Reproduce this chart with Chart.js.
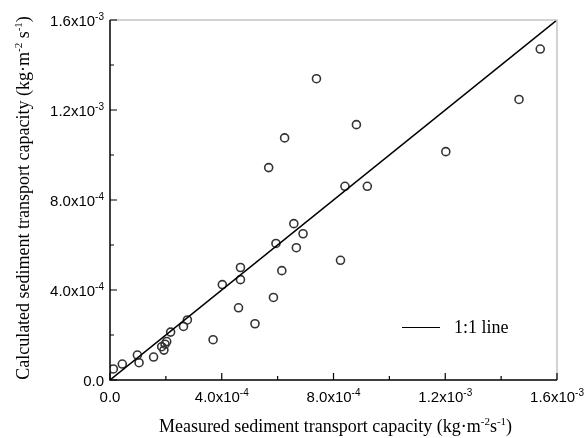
<!DOCTYPE html>
<html>
<head>
<meta charset="utf-8">
<script src="https://cdn.jsdelivr.net/npm/chart.js@4"></script>
<style>
  body { margin: 0; background: #fff; }
  canvas { display: block; }
</style>
</head>
<body>
<canvas id="chart" width="585" height="438"></canvas>
<script>
// values in units of 1e-4 kg m-2 s-1
var measured = [0.12, 0.44, 0.98, 1.04, 1.56, 1.85, 1.93, 1.97, 2.03, 2.17, 2.63, 2.77,
    3.69, 4.02, 4.60, 4.67, 4.67, 5.19, 5.68, 5.85, 5.94, 6.15, 6.25, 6.58, 6.67, 6.91,
    7.39, 8.25, 8.41, 8.82, 9.21, 12.02, 14.64, 15.40];
var calculated = [0.49, 0.71, 1.11, 0.77, 1.02, 1.48, 1.33, 1.59, 1.71, 2.13, 2.38, 2.67,
    1.79, 4.24, 3.21, 4.46, 5.00, 2.50, 9.44, 3.67, 6.07, 4.86, 10.76, 6.95, 5.88, 6.50,
    13.39, 5.32, 8.61, 11.35, 8.61, 10.15, 12.47, 14.71];

var majorTicks = [0, 4, 8, 12, 16];
var minorTicks = [2, 6, 10, 14];
var tickText = ['0.0', '4.0x10', '8.0x10', '1.2x10', '1.6x10'];
var tickExp = ['', '-4', '-4', '-3', '-3'];

var points = measured.map((m, i) => ({ x: m, y: calculated[i] }));

// draws a string with superscript pieces: parts = [[text, isSup], ...]
function drawParts(ctx, parts, x, y, baseFont, supFont, align, rise) {
    var widths = parts.map(p => {
        ctx.font = p[1] ? supFont : baseFont;
        return ctx.measureText(p[0]).width;
    });
    var total = widths.reduce((a, b) => a + b, 0);
    var cx = x;
    if (align === 'right') cx = x - total;
    if (align === 'center') cx = x - total / 2;
    ctx.textAlign = 'left';
    ctx.textBaseline = 'alphabetic';
    parts.forEach((p, i) => {
        ctx.font = p[1] ? supFont : baseFont;
        ctx.fillText(p[0], cx, p[1] ? y - rise : y);
        cx += widths[i];
    });
}

var axesPlugin = {
    id: 'axesPlugin',
    afterDraw(chart) {
        var ctx = chart.ctx;
        var xs = chart.scales.x, ys = chart.scales.y;
        var area = chart.chartArea;
        ctx.save();

        // frame: top and right in grey
        ctx.strokeStyle = '#c4c4c4';
        ctx.lineWidth = 1.5;
        ctx.beginPath();
        ctx.moveTo(area.left, area.top);
        ctx.lineTo(area.right, area.top);
        ctx.lineTo(area.right, area.bottom);
        ctx.stroke();

        // axes
        ctx.strokeStyle = '#000';
        ctx.beginPath();
        ctx.moveTo(area.left, area.top);
        ctx.lineTo(area.left, area.bottom);
        ctx.lineTo(area.right, area.bottom);
        ctx.stroke();

        // inward ticks
        ctx.lineWidth = 1.2;
        ctx.beginPath();
        majorTicks.forEach(v => {
            var px = xs.getPixelForValue(v), py = ys.getPixelForValue(v);
            ctx.moveTo(px, area.bottom); ctx.lineTo(px, area.bottom - 7);
            ctx.moveTo(area.left, py); ctx.lineTo(area.left + 7, py);
        });
        minorTicks.forEach(v => {
            var px = xs.getPixelForValue(v), py = ys.getPixelForValue(v);
            ctx.moveTo(px, area.bottom); ctx.lineTo(px, area.bottom - 4);
            ctx.moveTo(area.left, py); ctx.lineTo(area.left + 4, py);
        });
        ctx.stroke();

        // tick labels
        ctx.fillStyle = '#000';
        var base = '15px "Liberation Sans", Arial, sans-serif';
        var sup = '10px "Liberation Sans", Arial, sans-serif';
        majorTicks.forEach((v, i) => {
            var parts = [[tickText[i], false], [tickExp[i], true]];
            drawParts(ctx, parts, xs.getPixelForValue(v), area.bottom + 22, base, sup, 'center', 6);
            drawParts(ctx, parts, area.left - 6, ys.getPixelForValue(v) + 6, base, sup, 'right', 6);
        });

        // axis titles
        var tFont = '18px "Liberation Serif", "Times New Roman", serif';
        var tSup = '11px "Liberation Serif", "Times New Roman", serif';
        drawParts(ctx, [['Measured sediment transport capacity (kg\u00b7m', false], ['-2', true],
            ['s', false], ['-1', true], [')', false]],
            (area.left + area.right) / 2 + 2, 432, tFont, tSup, 'center', 7);

        ctx.save();
        ctx.translate(29, (area.top + area.bottom) / 2 - 2);
        ctx.rotate(-Math.PI / 2);
        drawParts(ctx, [['Calculated sediment transport capacity (kg\u00b7m', false], ['-2', true],
            [' s', false], ['-1', true], [')', false]],
            0, 0, tFont, tSup, 'center', 7);
        ctx.restore();

        // legend
        ctx.strokeStyle = '#000';
        ctx.lineWidth = 1.2;
        ctx.beginPath();
        ctx.moveTo(402, 327.5);
        ctx.lineTo(440, 327.5);
        ctx.stroke();
        ctx.font = tFont;
        ctx.textAlign = 'left';
        ctx.textBaseline = 'middle';
        ctx.fillText('1:1 line', 454, 328);

        ctx.restore();
    }
};

new Chart(document.getElementById('chart'), {
    type: 'scatter',
    data: {
        datasets: [{
            type: 'line',
            label: '1:1 line',
            data: [{ x: 0, y: 0 }, { x: 16, y: 16 }],
            borderColor: '#000',
            borderWidth: 1.5,
            pointRadius: 0,
            fill: false
        }, {
            label: 'data',
            data: points,
            pointStyle: 'circle',
            pointRadius: 4,
            borderColor: '#333',
            borderWidth: 1.6,
            backgroundColor: 'rgba(0,0,0,0)'
        }]
    },
    options: {
        responsive: false,
        animation: false,
        layout: {
            padding: { left: 110, top: 20, right: 28, bottom: 58 }
        },
        plugins: {
            legend: { display: false },
            tooltip: { enabled: false }
        },
        scales: {
            x: { type: 'linear', min: 0, max: 16, display: false },
            y: { type: 'linear', min: 0, max: 16, display: false }
        }
    },
    plugins: [axesPlugin]
});
</script>
</body>
</html>
